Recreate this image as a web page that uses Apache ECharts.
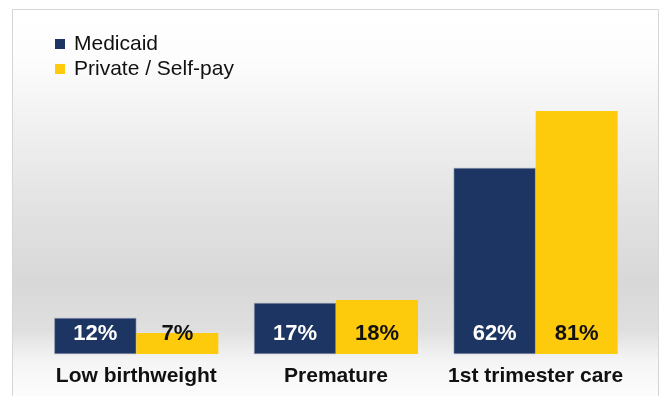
<!DOCTYPE html>
<html>
<head>
<meta charset="utf-8">
<script src="https://cdn.jsdelivr.net/npm/echarts@6/dist/echarts.min.js"></script>
<style>
  html, body { margin: 0; padding: 0; background: #ffffff; }
  #chart { width: 662px; height: 396px; }
</style>
</head>
<body>
<div id="chart"></div>
<script>
// Birth outcomes by payer type (percent)
const categories = ['Low birthweight', 'Premature', '1st trimester care'];
const medicaid = [12, 17, 62];
const privateSelfPay = [7, 18, 81];
const seriesNames = ['Medicaid', 'Private / Self-pay'];

const NAVY = '#1d3562';
const GOLD = '#fdcb0b';
const FONT = '"Liberation Sans", Arial, sans-serif';

const chart = echarts.init(document.getElementById('chart'), null, { renderer: 'canvas' });

function valueLabel(color) {
  return {
    show: true,
    position: 'insideBottom',
    distance: 9,
    color: color,
    fontFamily: FONT,
    fontWeight: 'bold',
    fontSize: 22,
    formatter: p => p.value + '%'
  };
}

chart.setOption({
  animation: false,
  backgroundColor: '#ffffff',
  graphic: [{
    type: 'rect',
    left: 12,
    top: 9,
    shape: { width: 646, height: 400 },
    z: -10,
    style: {
      fill: new echarts.graphic.LinearGradient(0, 0, 0, 1, [
        { offset: 0.0, color: '#ffffff' },
        { offset: 0.12, color: '#fdfdfd' },
        { offset: 0.30, color: '#f0f0f0' },
        { offset: 0.50, color: '#e2e2e2' },
        { offset: 0.68, color: '#d8d8d8' },
        { offset: 0.80, color: '#dfdfdf' },
        { offset: 0.88, color: '#f5f5f5' },
        { offset: 1.0, color: '#ffffff' }
      ]),
      stroke: '#d6d6d6',
      lineWidth: 1
    }
  }],
  legend: {
    orient: 'vertical',
    left: 50,
    top: 27,
    itemWidth: 10,
    itemHeight: 10,
    itemGap: 1,
    icon: 'rect',
    data: seriesNames,
    itemStyle: { borderWidth: 0 },
    textStyle: {
      fontFamily: FONT,
      fontSize: 21,
      lineHeight: 24,
      color: '#111111',
      padding: [0, 0, 0, 4]
    }
  },
  grid: {
    left: 36.5,
    right: 26.5,
    top: 54,
    bottom: 42,
    containLabel: false
  },
  xAxis: {
    type: 'category',
    data: categories,
    axisLine: { show: false },
    axisTick: { show: false },
    axisLabel: {
      interval: 0,
      margin: 12,
      fontFamily: FONT,
      fontWeight: 'bold',
      fontSize: 21,
      color: '#111111'
    }
  },
  yAxis: {
    type: 'value',
    min: 0,
    max: 100,
    show: false,
    splitLine: { show: false }
  },
  series: [{
    name: seriesNames[0],
    type: 'bar',
    data: medicaid,
    barWidth: 82,
    barGap: '0%',
    itemStyle: { color: NAVY, borderColor: '#8f9bb3', borderWidth: 0.6 },
    label: valueLabel('#ffffff')
  }, {
    name: seriesNames[1],
    type: 'bar',
    data: privateSelfPay,
    barWidth: 82,
    barGap: '0%',
    itemStyle: { color: GOLD },
    label: valueLabel('#111111')
  }]
});
</script>
</body>
</html>
